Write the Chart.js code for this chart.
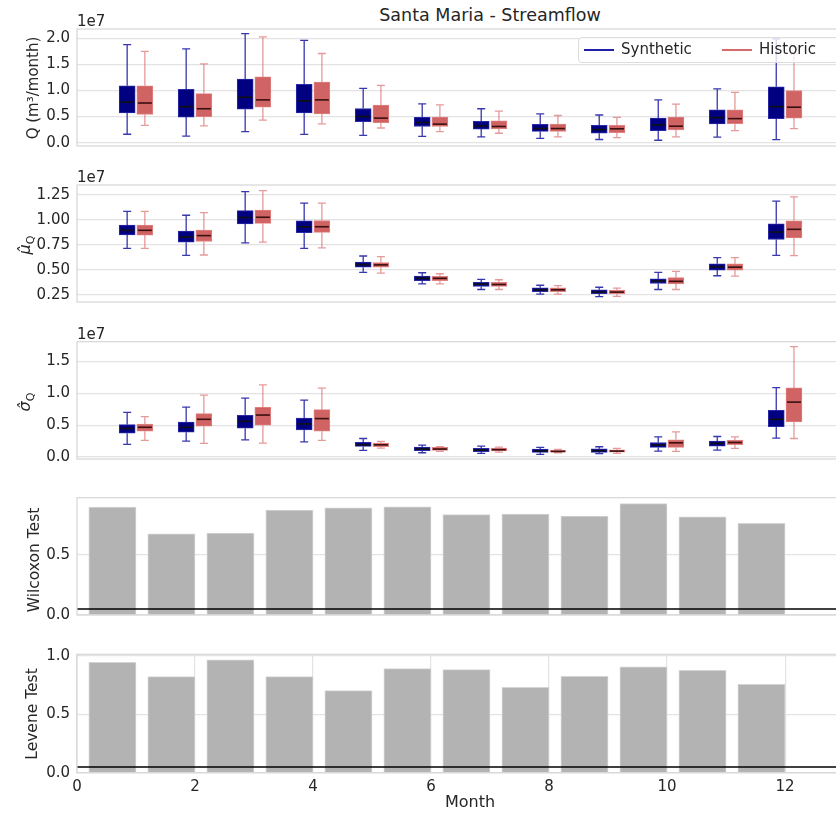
<!DOCTYPE html>
<html>
<head>
<meta charset="utf-8">
<script src="https://cdn.jsdelivr.net/npm/chart.js@4.4.1/dist/chart.umd.min.js"></script>
<style>
body { margin:0; width:836px; height:813px; overflow:hidden; background:#fff; position:relative;
       font-family:'DejaVu Sans', sans-serif; color:#262626; }
canvas { position:absolute; left:0; }
.txt { position:absolute; white-space:nowrap; color:#262626; }
.ylab { transform:translate(-50%,-50%) rotate(-90deg); font-size:15.5px; }
.off { font-size:15px; transform:translateY(-50%); }
#legend { position:absolute; left:578px; top:37px; width:290px; height:26px; box-sizing:border-box;
          border:1px solid #dcdcdc; border-radius:4px; background:rgba(255,255,255,0.8); font-size:15px; }
#legend div { position:absolute; }
</style>
</head>
<body>

<div class="txt" style="left:490px;top:15px;transform:translate(-50%,-50%);font-size:17.5px">Santa Maria - Streamflow</div>

<script>
const months = [1, 2, 3, 4, 5, 6, 7, 8, 9, 10, 11, 12];

// box stats per month: [low whisker, q1, median, q3, high whisker], in units of 1e7
const flowSynthetic = [
  [0.16, 0.57, 0.78, 1.09, 1.88], [0.125, 0.49, 0.69, 1.02, 1.80], [0.21, 0.64, 0.87, 1.22, 2.09],
  [0.157, 0.57, 0.80, 1.12, 1.96], [0.14, 0.40, 0.50, 0.655, 1.04], [0.12, 0.31, 0.385, 0.485, 0.745],
  [0.11, 0.26, 0.32, 0.41, 0.65], [0.08, 0.215, 0.27, 0.35, 0.55], [0.06, 0.18, 0.25, 0.33, 0.53],
  [0.045, 0.23, 0.34, 0.47, 0.82], [0.105, 0.36, 0.48, 0.63, 1.03], [0.057, 0.46, 0.69, 1.07, 1.99]
];
const flowHistoric = [
  [0.33, 0.54, 0.76, 1.09, 1.75], [0.32, 0.50, 0.65, 0.94, 1.51], [0.43, 0.68, 0.82, 1.26, 2.03],
  [0.36, 0.55, 0.82, 1.16, 1.71], [0.28, 0.385, 0.47, 0.72, 1.10], [0.21, 0.31, 0.355, 0.49, 0.725],
  [0.18, 0.265, 0.31, 0.42, 0.605], [0.11, 0.215, 0.27, 0.355, 0.52], [0.095, 0.19, 0.265, 0.33, 0.485],
  [0.11, 0.245, 0.315, 0.49, 0.74], [0.23, 0.365, 0.46, 0.63, 0.965], [0.27, 0.47, 0.68, 1.00, 1.70]
];
const meanSynthetic = [
  [0.714, 0.85, 0.895, 0.947, 1.085], [0.645, 0.776, 0.829, 0.888, 1.046], [0.77, 0.96, 1.023, 1.092, 1.283],
  [0.714, 0.872, 0.931, 0.99, 1.168], [0.473, 0.526, 0.552, 0.576, 0.638], [0.358, 0.391, 0.414, 0.437, 0.47],
  [0.302, 0.332, 0.355, 0.374, 0.404], [0.256, 0.28, 0.299, 0.319, 0.345], [0.23, 0.26, 0.276, 0.299, 0.325],
  [0.302, 0.362, 0.388, 0.41, 0.473], [0.44, 0.497, 0.529, 0.559, 0.621], [0.645, 0.803, 0.878, 0.96, 1.188]
];
const meanHistoric = [
  [0.714, 0.847, 0.895, 0.947, 1.085], [0.648, 0.783, 0.842, 0.898, 1.072], [0.776, 0.964, 1.026, 1.099, 1.293],
  [0.72, 0.875, 0.931, 0.993, 1.168], [0.467, 0.526, 0.549, 0.572, 0.631], [0.358, 0.391, 0.414, 0.434, 0.46],
  [0.302, 0.332, 0.352, 0.374, 0.40], [0.256, 0.28, 0.299, 0.319, 0.342], [0.233, 0.26, 0.276, 0.296, 0.315],
  [0.302, 0.358, 0.384, 0.421, 0.483], [0.437, 0.497, 0.526, 0.559, 0.621], [0.641, 0.819, 0.905, 0.99, 1.23]
];
const stdSynthetic = [
  [0.198, 0.374, 0.447, 0.509, 0.70], [0.249, 0.389, 0.467, 0.55, 0.784], [0.27, 0.452, 0.561, 0.654, 0.924],
  [0.239, 0.425, 0.519, 0.612, 0.893], [0.104, 0.167, 0.192, 0.229, 0.291], [0.067, 0.098, 0.125, 0.156, 0.187],
  [0.057, 0.083, 0.109, 0.135, 0.171], [0.042, 0.073, 0.093, 0.125, 0.151], [0.052, 0.073, 0.099, 0.13, 0.161],
  [0.093, 0.151, 0.187, 0.228, 0.317], [0.109, 0.171, 0.213, 0.249, 0.322], [0.296, 0.478, 0.592, 0.732, 1.09]
];
const stdHistoric = [
  [0.26, 0.405, 0.467, 0.519, 0.634], [0.213, 0.483, 0.592, 0.68, 0.97], [0.218, 0.498, 0.659, 0.779, 1.132],
  [0.26, 0.405, 0.603, 0.743, 1.08], [0.14, 0.161, 0.192, 0.218, 0.244], [0.088, 0.104, 0.125, 0.151, 0.161],
  [0.078, 0.094, 0.115, 0.14, 0.156], [0.067, 0.078, 0.088, 0.104, 0.119], [0.057, 0.078, 0.093, 0.114, 0.135],
  [0.088, 0.151, 0.223, 0.27, 0.395], [0.135, 0.192, 0.228, 0.265, 0.317], [0.291, 0.55, 0.862, 1.085, 1.734]
];

// p-values
const wilcoxonP = [0.897, 0.675, 0.680, 0.872, 0.891, 0.900, 0.834, 0.839, 0.823, 0.926, 0.815, 0.762];
const leveneP   = [0.945, 0.822, 0.965, 0.822, 0.702, 0.890, 0.882, 0.731, 0.825, 0.905, 0.877, 0.757];
const alpha = 0.05;

// ticks
const flowTicks = [0, 0.5, 1.0, 1.5, 2.0];
const flowTickLabels = ['0.0', '0.5', '1.0', '1.5', '2.0'];
const meanTicks = [0.25, 0.5, 0.75, 1.0, 1.25];
const meanTickLabels = ['0.25', '0.50', '0.75', '1.00', '1.25'];
const stdTicks = [0, 0.5, 1.0, 1.5];
const stdTickLabels = ['0.0', '0.5', '1.0', '1.5'];
const wilcoxonTicks = [0, 0.5];
const wilcoxonTickLabels = ['0.0', '0.5'];
const leveneTicks = [0, 0.5, 1.0];
const leveneTickLabels = ['0.0', '0.5', '1.0'];
const monthTicks = [0, 2, 4, 6, 8, 10, 12];
const monthTickLabels = ['0', '2', '4', '6', '8', '10', '12'];

// layout
const FIG_W = 980, AREA_LEFT = 77, AREA_RIGHT = 863, AREA_H = 118.5;
const XMAX = 13.32;
const PX_MONTH = (AREA_RIGHT - AREA_LEFT) / XMAX;
const panelTops = [29, 185, 341.7, 497.7, 654.3];
const X_AXIS_H = 40.3;
const BOX_W = 16, BOX_SHIFT = 0.15;
const GRID = '#e3e3e3', FRAME = '#d6d6d6', TXT = '#262626';
const FONT = 'DejaVu Sans';

function addText(html, cls, style) {
  const d = document.createElement('div');
  d.className = 'txt ' + cls;
  d.setAttribute('style', style);
  d.innerHTML = html;
  document.body.appendChild(d);
}

function makeCanvas(i, withAxis) {
  const c = document.createElement('canvas');
  const top = Math.floor(panelTops[i] - 20);
  const padTop = panelTops[i] - top;
  const h = withAxis ? Math.ceil(padTop + AREA_H + X_AXIS_H) : Math.ceil(padTop + AREA_H + 14);
  c.width = FIG_W; c.height = h;
  c.style.top = top + 'px';
  document.body.appendChild(c);
  const padBottom = h - padTop - AREA_H - (withAxis ? X_AXIS_H : 0);
  return {c, padTop, padBottom};
}

const framePlugin = {
  id: 'frame',
  afterDraw(chart) {
    const a = chart.chartArea, ctx = chart.ctx;
    ctx.save();
    ctx.strokeStyle = FRAME; ctx.lineWidth = 1.2;
    ctx.strokeRect(a.left, a.top, a.right - a.left, a.bottom - a.top);
    ctx.restore();
  }
};

const boxPlugin = {
  id: 'boxes',
  afterDatasetsDraw(chart) {
    const ctx = chart.ctx, x = chart.scales.x, y = chart.scales.y;
    chart.data.datasets.forEach(ds => {
      if (!ds.stats) return;
      ds.stats.forEach((s, i) => {
        const cx = x.getPixelForValue(months[i] + ds.shift);
        const cap = BOX_W / 4;
        ctx.save();
        ctx.strokeStyle = ds.whiskerColor; ctx.lineWidth = 1.3;
        ctx.beginPath();
        ctx.moveTo(cx, y.getPixelForValue(s[3])); ctx.lineTo(cx, y.getPixelForValue(s[4]));
        ctx.moveTo(cx, y.getPixelForValue(s[1])); ctx.lineTo(cx, y.getPixelForValue(s[0]));
        ctx.moveTo(cx - cap, y.getPixelForValue(s[4])); ctx.lineTo(cx + cap, y.getPixelForValue(s[4]));
        ctx.moveTo(cx - cap, y.getPixelForValue(s[0])); ctx.lineTo(cx + cap, y.getPixelForValue(s[0]));
        ctx.stroke();
        ctx.strokeStyle = ds.medianColor; ctx.lineWidth = 1.6;
        ctx.beginPath();
        const my = y.getPixelForValue(s[2]);
        ctx.moveTo(cx - BOX_W / 2 + 1, my); ctx.lineTo(cx + BOX_W / 2 - 1, my);
        ctx.stroke();
        ctx.restore();
      });
    });
  }
};

function yAxis(min, max, ticks, labels) {
  return {
    min: min, max: max,
    afterBuildTicks: s => { s.ticks = ticks.map(v => ({value: v})); },
    afterFit: s => { s.width = AREA_LEFT; },
    grid: {color: GRID, drawTicks: false, lineWidth: 1.2},
    border: {display: false},
    ticks: {color: TXT, font: {family: FONT, size: 15}, padding: 7, autoSkip: false,
            callback: (v, i) => labels[i]}
  };
}

function boxChart(i, synth, hist, min, max, ticks, labels) {
  const {c, padTop, padBottom} = makeCanvas(i, false);
  return new Chart(c, {
    type: 'bar',
    data: {
      datasets: [
        {label: 'Synthetic', stats: synth, shift: -BOX_SHIFT,
         data: months.map((m, k) => ({x: m - BOX_SHIFT, y: [synth[k][1], synth[k][3]]})),
         backgroundColor: '#000080', borderColor: '#2a2aa8', borderWidth: 1, borderSkipped: false,
         barThickness: BOX_W, grouped: false, whiskerColor: 'rgba(20,20,160,0.85)', medianColor: '#111'},
        {label: 'Historic', stats: hist, shift: BOX_SHIFT,
         data: months.map((m, k) => ({x: m + BOX_SHIFT, y: [hist[k][1], hist[k][3]]})),
         backgroundColor: 'rgba(205,92,92,0.95)', borderColor: 'rgba(225,130,130,1)', borderWidth: 1, borderSkipped: false,
         barThickness: BOX_W, grouped: false, whiskerColor: 'rgba(215,100,100,0.65)', medianColor: '#3a1010'}
      ]
    },
    options: {
      responsive: false, animation: false,
      layout: {padding: {left: 0, right: FIG_W - AREA_RIGHT, top: padTop, bottom: padBottom}},
      plugins: {legend: {display: false}, tooltip: {enabled: false}},
      scales: {
        x: {type: 'linear', min: 0, max: XMAX, offset: false, display: false},
        y: yAxis(min, max, ticks, labels)
      }
    },
    plugins: [boxPlugin, framePlugin]
  });
}

function testChart(i, values, max, ticks, labels, withAxis) {
  const {c, padTop, padBottom} = makeCanvas(i, withAxis);
  const xAxis = withAxis ? {
    type: 'linear', min: 0, max: XMAX, offset: false,
    afterBuildTicks: s => { s.ticks = monthTicks.map(v => ({value: v})); },
    afterFit: s => { s.height = X_AXIS_H; },
    grid: {color: GRID, drawTicks: false, lineWidth: 1.2, offset: false},
    border: {display: false},
    ticks: {color: TXT, font: {family: FONT, size: 15}, padding: 5, autoSkip: false, maxRotation: 0,
            callback: (v, k) => monthTickLabels[k]},
    title: {display: true, text: 'Month', color: TXT, font: {family: FONT, size: 16}, padding: {top: 0, bottom: 1}}
  } : {type: 'linear', min: 0, max: XMAX, offset: false, display: false};
  return new Chart(c, {
    type: 'bar',
    data: {
      datasets: [
        {type: 'line', data: [{x: 0, y: alpha}, {x: XMAX, y: alpha}], borderColor: '#000', borderWidth: 1.5,
         pointRadius: 0, order: 1},
        {data: months.map((m, k) => ({x: m - 0.4, y: values[k]})), backgroundColor: '#b3b3b3',
         borderColor: '#d4d4d4', borderWidth: 1, barThickness: 0.8 * PX_MONTH, grouped: false, order: 2}
      ]
    },
    options: {
      responsive: false, animation: false,
      layout: {padding: {left: 0, right: FIG_W - AREA_RIGHT, top: padTop, bottom: padBottom}},
      plugins: {legend: {display: false}, tooltip: {enabled: false}},
      scales: {x: xAxis, y: yAxis(0, max, ticks, labels)}
    },
    plugins: [framePlugin]
  });
}

boxChart(0, flowSynthetic, flowHistoric, -0.065, 2.18, flowTicks, flowTickLabels);
boxChart(1, meanSynthetic, meanHistoric, 0.177, 1.349, meanTicks, meanTickLabels);
boxChart(2, stdSynthetic, stdHistoric, -0.031, 1.81, stdTicks, stdTickLabels);
testChart(3, wilcoxonP, 0.975, wilcoxonTicks, wilcoxonTickLabels, false);
testChart(4, leveneP, 1.013, leveneTicks, leveneTickLabels, true);

// offset labels
[0, 1, 2].forEach(i => addText('1e7', 'off', 'left:77px;top:' + (panelTops[i] - 8) + 'px'));

// y labels
addText('Q (m³/month)', 'ylab', 'left:33px;top:88px;font-size:15px');
addText('<i>μ̂</i><sub style="font-size:11px">Q</sub>', 'ylab', 'left:26px;top:245px;font-size:16px');
addText('<i>σ̂</i><sub style="font-size:11px">Q</sub>', 'ylab', 'left:26px;top:402px;font-size:16px');
addText('Wilcoxon Test', 'ylab', 'left:34px;top:560px');
addText('Levene Test', 'ylab', 'left:32px;top:714px');

// legend
const lg = document.createElement('div');
lg.id = 'legend';
lg.innerHTML =
  '<div style="left:5px;top:11px;width:30px;height:2px;background:#2020a8"></div>' +
  '<div style="left:42px;top:2px">Synthetic</div>' +
  '<div style="left:143px;top:11px;width:30px;height:2px;background:#d66a6a"></div>' +
  '<div style="left:180px;top:2px">Historic</div>';
document.body.appendChild(lg);
</script>
</body>
</html>
